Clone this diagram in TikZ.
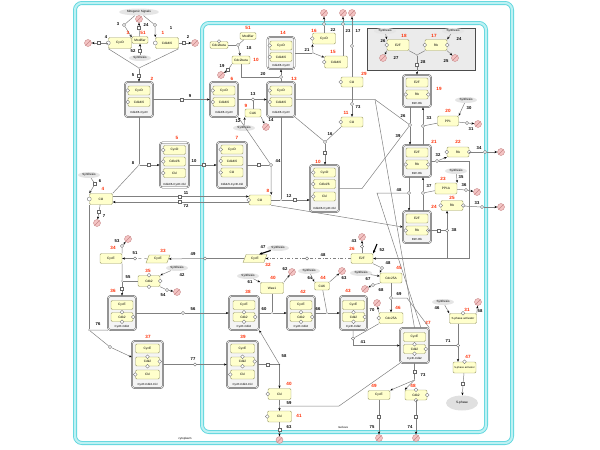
\documentclass[tikz,border=0pt]{standalone}
\usepackage{fontspec}
\setmainfont{Liberation Sans}
\usetikzlibrary{arrows.meta,shapes.geometric}
\definecolor{protfill}{HTML}{FFFFCC}
\definecolor{protline}{HTML}{9C9C6C}
\definecolor{cplxline}{HTML}{5A5A5A}
\definecolor{cplxfill}{HTML}{F4F4F4}
\definecolor{cyanline}{HTML}{5ED6DE}
\definecolor{cyanfill}{HTML}{BDF1F3}
\definecolor{degfill}{HTML}{F4C4C4}
\definecolor{degline}{HTML}{C88888}
\definecolor{labred}{HTML}{FF2A00}
\tikzset{prot/.style={draw=protline,fill=protfill,rounded corners=1.2pt,line width=0.45pt,
    minimum width=22pt,minimum height=10pt,inner sep=0pt,font=\fontsize{3.2}{3.6}\selectfont},
  sub/.style={prot,minimum width=22pt,minimum height=9pt},
  gene/.style={prot,trapezium,trapezium left angle=65,trapezium right angle=115,trapezium stretches=true,
    rounded corners=0pt,minimum width=24pt,minimum height=8pt},
  cplx/.style={draw=cplxline,fill=cplxfill,rounded corners=2.5pt,line width=0.5pt,double=white,
    double distance=0.6pt,inner sep=0pt},
  clab/.style={font=\fontsize{2.9}{3.2}\selectfont,inner sep=0pt},
  rlab/.style={text=labred,font=\fontsize{4.6}{5}\selectfont\bfseries,inner sep=0pt},
  nlab/.style={font=\fontsize{4.2}{4.6}\selectfont\bfseries,inner sep=0pt},
  proc/.style={draw=black!60,fill=white,line width=0.35pt,minimum size=3pt,inner sep=0pt},
  pcirc/.style={proc,circle,minimum size=3.4pt},
  junc/.style={circle,fill=black!70,minimum size=1.4pt,inner sep=0pt},
  degr/.style={circle,draw=degline,fill=degfill,minimum size=7pt,inner sep=0pt,line width=0.4pt,
    path picture={\draw[degline,line width=0.4pt] (path picture bounding box.south west) -- (path picture bounding box.north east);}},
  synth/.style={ellipse,fill=black!10,minimum width=22pt,minimum height=6pt,inner sep=0pt,
    font=\fontsize{3}{3.4}\selectfont},
  svc/.style={draw=black!55,fill=white,line width=0.35pt},
  link/.style={draw=black!50,line width=0.5pt},
  arrow/.style={link,-{Stealth[length=2.8pt,width=2.2pt,color=black]}},
  thick arrow/.style={line width=1.1pt,-{Stealth[length=3pt,width=2.6pt]}},
  comp/.style={draw=cyanline,line width=0.9pt,double=cyanfill,double distance=2.2pt,rounded corners=7pt}}

\begin{document}
\begin{tikzpicture}[x=1pt,y=-1pt]
  \useasboundingbox (0,0) rectangle (600,450);
  % compartments
  \draw[comp] (75,3) rectangle (512,443);
  \draw[comp] (202,23) rectangle (486,432);
  \draw[fill=black!8,draw=black!70,line width=0.6pt] (367,28) rectangle (475,70);
  \node[clab] (cyto) at (185,439) {cytoplasm};
  \node[clab] (nucl) at (343,427) {nucleus};

  % ---- cytoplasm: CycD and Cdk4/6 ----
  \node[synth,minimum width=40pt,minimum height=7pt] (mito) at (139,12) {Mitogenic Signals};
  \node[prot,minimum width=23pt,minimum height=11pt] (p3) at (120,43) {CycD};
  \node[prot,minimum width=16pt,minimum height=7pt] (mod1) at (140,40) {Modifier};
  \node[prot,minimum width=23pt,minimum height=11pt] (p1) at (167,43) {Cdk4/6};
  \node[synth] (syn52) at (140,58) {Synthesis};
  \node[degr] (d4) at (88,43) {};
  \node[degr] (d2) at (195,43) {};
  \node[degr] (d24) at (139,19) {};
  \node[proc] (q4) at (99,43) {};
  \node[proc] (q2) at (184,43) {};
  \node[proc] (q24) at (139,28) {};
  \node[proc] (q52) at (140,50.5) {};
  \node[pcirc] (c3) at (124,25) {};
  \node[pcirc] (c1) at (155,25) {};
  \node[junc] (j5) at (139,68) {};
  \node[proc] (q5) at (139,76) {};
  \foreach \a in {p3,p1} \draw[svc] (\a.west) circle (2);
  \draw[link] (p3) -- (q4);
  \draw[arrow] (q4) -- (d4);
  \draw[link] (p1) -- (q2);
  \draw[arrow] (q2) -- (d2);
  \draw[link] (mod1) -- (q24);
  \draw[arrow] (q24) -- (d24);
  \draw[link] (syn52) -- (q52);
  \draw[arrow] (q52) -- (mod1);
  \draw[link] (mito) -- (c3);
  \draw[arrow] (c3) -- (p3.north east);
  \draw[link] (mito) -- (c1);
  \draw[arrow] (c1) -- (p1.north west);
  \draw[link] (p3.south west) -- (j5);
  \draw[link] (p1.south east) -- (j5);
  \draw[link] (j5) -- (q5);
  \node[rlab] (r3) at (128,33) {3};
  \node[rlab] (r51a) at (143,33) {51};
  \node[rlab] (r1) at (163,33) {1};
  \node[nlab] (n3) at (118,24) {3};
  \node[nlab] (n1) at (171,28) {1};
  \node[nlab] (n4) at (106,37) {4};
  \node[nlab] (n2) at (188,37) {2};
  \node[nlab] (n24) at (146,25) {24};
  \node[nlab] (n52) at (133,51) {52};
  \node[nlab] (n5) at (133,75) {5};

  % Cdk4/6-CycD (cytoplasm)
  \begin{scope}[shift={(139,99.5)}]
    \node[cplx,minimum width=28pt,minimum height=35pt] (k2) at (0,0) {};
    \node[sub] (k2a) at (0,-9) {CycD};
    \node[sub] (k2b) at (0,2.5) {Cdk4/6};
    \node[clab] (k2l) at (0,13.5) {Cdk4/6-CycD};
  \end{scope}
  \node[rlab] (r2) at (152,79) {2};
  \draw[arrow] (q5) -- (k2);
  \node[proc] (q9) at (182,99.5) {};
  \node[nlab] (n9) at (190,96) {9};
  \node[junc] (j8) at (139,165) {};
  \node[proc] (q8) at (149,165) {};
  \node[nlab] (n8) at (133,163) {8};

  % Cdk4/6-CycD-Ckl (cytoplasm)
  \begin{scope}[shift={(174.5,165)}]
    \node[cplx,minimum width=29pt,minimum height=45pt] (k5) at (0,0) {};
    \node[sub] (k5a) at (0,-15) {CycD};
    \node[sub] (k5b) at (0,-3.5) {Cdk4/6};
    \node[sub] (k5c) at (0,8) {Ckl};
    \node[clab] (k5l) at (0,19.5) {Cdk4/6-CycD-Ckl};
  \end{scope}
  \node[rlab] (r5) at (177,138) {5};
  \node[proc] (q10) at (204,165) {};
  \node[nlab] (n10) at (194,161) {10};

  % Ckl (cytoplasm)
  \node[prot,minimum width=23pt,minimum height=11pt] (p4) at (101,199) {Ckl};
  \node[rlab] (r4) at (103,189) {4};
  \node[synth] (syn6) at (89,175) {Synthesis};
  \node[proc] (q6) at (95,184) {};
  \node[nlab] (n6) at (100,181) {6};
  \node[proc] (q7) at (99,212) {};
  \node[degr] (d7) at (97,223) {};
  \node[nlab] (n7) at (104,216) {7};
  \node[proc] (q11) at (180,196.5) {};
  \node[proc] (q72) at (180,202) {};
  \node[nlab] (n11) at (186,193) {11};
  \node[nlab] (n72) at (186,206) {72};
  \draw[svc] (p4.west) circle (2);
  \draw[link] (syn6) -- (q6);
  \draw[arrow] (q6) -- (p4.north west);
  \draw[link] (p4) -- (q7);
  \draw[arrow] (q7) -- (d7);
  \draw[link] (p4.north east) -- (j8);

  % CycE (cytoplasm)
  \node[gene] (p33) at (158,259) {CycE};
  \node[rlab] (r33) at (163,251) {33};
  \node[pcirc] (c51) at (135,258.5) {};
  \node[nlab] (n51) at (135,253) {51};
  \node[prot] (p34) at (111,258.5) {CycE};
  \node[rlab] (r34) at (113,248) {34};
  \node[pcirc] (c53) at (122,246) {};
  \node[degr] (d53) at (128,239) {};
  \node[nlab] (n53) at (117,241) {53};
  \node[junc] (j55) at (122,281) {};
  \node[proc] (q55) at (122,289) {};
  \node[nlab] (n55) at (128,277) {55};
  \node[prot,minimum height=11pt] (p35) at (149,281) {Cdk2};
  \node[rlab] (r35) at (148,271) {35};
  \node[synth] (syn42) at (177,268) {Synthesis};
  \node[nlab] (n42) at (182,275) {42};
  \node[pcirc] (c54) at (167,290) {};
  \node[degr] (d54) at (177,292) {};
  \node[nlab] (n54) at (163,295) {54};
  \foreach \a in {north,south,east} \draw[svc] (p35.\a) circle (1.8);
  \draw[link,dashed] (p33) -- (c51);
  \draw[arrow] (c51) -- (p34);
  \draw[link] (p34.north east) -- (c53);
  \draw[arrow] (c53) -- (d53);
  \draw[link] (p34.south east) -- (j55);
  \draw[link] (p35) -- (j55);
  \draw[link] (j55) -- (q55);
  \draw[arrow] (syn42) -- (p35.north east);
  \draw[link] (p35.south east) -- (c54);
  \draw[arrow] (c54) -- (d54);

  % CycE-Cdk2 (cytoplasm)
  \begin{scope}[shift={(122,313)}]
    \node[cplx,minimum width=28pt,minimum height=34pt] (k36) at (0,0) {};
    \node[sub] (k36a) at (0,-8) {CycE};
    \node[sub] (k36b) at (0,4) {Cdk2};
    \node[clab] (k36l) at (0,13.5) {CycE-Cdk2};
  \end{scope}
  \node[rlab] (r36) at (113,291) {36};
  \draw[arrow] (q55) -- (k36);
  \node[pcirc] (c56) at (183,313) {};
  \node[nlab] (n56) at (193,309) {56};
  \node[junc] (j76) at (89,330) {};
  \node[pcirc] (c76) at (110,347) {};
  \node[nlab] (n76) at (98,324) {76};

  % CycE-Cdk2-Ckl (cytoplasm)
  \begin{scope}[shift={(147.5,364.5)}]
    \node[cplx,minimum width=31pt,minimum height=47pt] (k37) at (0,0) {};
    \node[sub,minimum width=24pt] (k37a) at (0,-16) {CycE};
    \node[sub,minimum width=24pt] (k37b) at (0,-3) {Cdk2};
    \node[sub,minimum width=24pt] (k37c) at (0,10) {Ckl};
    \node[clab] (k37l) at (0,20.5) {CycE-Cdk2-Ckl};
  \end{scope}
  \node[rlab] (r37) at (148,337) {37};
  \node[pcirc] (c77) at (195,364.5) {};
  \node[nlab] (n77) at (193,359) {77};
  \draw[link] (j76 |- p4.south) -- (j76);
  \draw[link] (j76) -- (k36.south west);
  \draw[link] (j76) -- (c76);
  \draw[arrow] (c76) -- (k37);

  % ---- nucleus: Cdk4/6 complexes ----
  \begin{scope}[shift={(224,99.5)}]
    \node[cplx,minimum width=28pt,minimum height=35pt] (k6) at (0,0) {};
    \node[sub] (k6a) at (0,-9) {CycD};
    \node[sub] (k6b) at (0,2.5) {Cdk4/6};
    \node[clab] (k6l) at (0,13.5) {Cdk4/6-CycD};
  \end{scope}
  \node[rlab] (r6) at (232,79) {6};
  \begin{scope}[shift={(281,99.5)}]
    \node[cplx,minimum width=28pt,minimum height=35pt] (k13) at (0,0) {};
    \node[sub] (k13a) at (0,-9) {CycD};
    \node[sub] (k13b) at (0,2.5) {Cdk4/6};
    \node[clab] (k13l) at (0,13.5) {Cdk4/6-CycD};
  \end{scope}
  \node[rlab] (r13) at (294,79) {13};
  \begin{scope}[shift={(281,53)}]
    \node[cplx,minimum width=27pt,minimum height=32pt] (k14) at (0,0) {};
    \node[sub] (k14a) at (0,-7.5) {CycD};
    \node[sub] (k14b) at (0,4) {Cdk4/6};
    \node[clab] (k14l) at (0,12.5) {Cdk4/6-CycD};
  \end{scope}
  \node[rlab] (r14) at (283,33) {14};
  \begin{scope}[shift={(232,165)}]
    \node[cplx,minimum width=30pt,minimum height=46pt] (k7) at (0,0) {};
    \node[sub] (k7a) at (0,-15.5) {CycD};
    \node[sub] (k7b) at (0,-4) {Cdk4/6};
    \node[sub] (k7c) at (0,7.5) {Ckl};
    \node[clab] (k7l) at (0,19.5) {Cdk4/6-CycD-Ckl};
  \end{scope}
  \node[rlab] (r7) at (237,138) {7};
  \begin{scope}[shift={(324.5,188.5)}]
    \node[cplx,minimum width=29pt,minimum height=47pt] (k10) at (0,0) {};
    \node[sub] (k10a) at (0,-16) {CycD};
    \node[sub] (k10b) at (0,-4.5) {Cdk4/6};
    \node[sub] (k10c) at (0,8) {Ckl};
    \node[clab] (k10l) at (0,20) {Cdk4/6-CycD-Ckl};
  \end{scope}
  \node[rlab] (r10) at (318,162) {10};
  \foreach \a in {k2a,k2b,k5a,k5b,k5c,k6a,k6b,k13a,k13b,k14a,k14b,k7a,k7b,k7c,k10a,k10b,k10c}
    \draw[svc] (\a.west) circle (1.8);

  \draw[link] (k2) -- (q9);
  \draw[arrow] (q9) -- (k6);
  \draw[link] (k2) -- (j8);
  \draw[link] (j8) -- (q8);
  \draw[arrow] (q8) -- (k5);
  \draw[link] (k5) -- (q10);
  \draw[arrow] (q10) -- (k7);

  % Cdc2beta and modifier
  \node[prot,minimum width=18pt,minimum height=7pt] (pA) at (219,45) {Cdc2beta};
  \node[prot,minimum width=16pt,minimum height=7pt] (mod2) at (248,36) {Modifier};
  \node[rlab] (r51b) at (248,28) {51};
  \node[pcirc] (j18) at (238,45) {};
  \node[nlab] (n18) at (249,48) {18};
  \node[prot,minimum width=18pt,minimum height=8pt] (pB) at (241,60) {Cdc2beta};
  \node[rlab] (r10b) at (256,60) {10};
  \node[proc] (q19) at (228,70) {};
  \node[degr] (d19) at (221,75) {};
  \node[nlab] (n19) at (222,66) {19};
  \node[pcirc] (c20) at (281,77) {};
  \node[nlab] (n20) at (263,74) {20};
  \draw[svc] (pA.north) circle (1.6);
  \draw[link] (pA) -- (j18);
  \draw[link] (mod2) -- (j18);
  \draw[arrow] (j18) -- (pB);
  \draw[link] (pB.south west) -- (q19);
  \draw[arrow] (q19) -- (d19);
  \draw[link] (pB.south) |- (c20);
  \draw[link] (k13) -- (c20);
  \draw[arrow] (c20) -- (k14);

  % CycD / Cdk4/6 released
  \node[junc] (j21) at (313,53) {};
  \node[nlab] (n21) at (307,50) {21};
  \node[prot,minimum width=23pt,minimum height=11pt] (p16) at (324,38.5) {CycD};
  \node[rlab] (r16) at (314,31) {16};
  \node[prot,minimum width=23pt,minimum height=12pt] (p15) at (336,62) {Cdk4/6};
  \node[rlab] (r15) at (333,52) {15};
  \node[pcirc] (c22) at (324,24) {};
  \node[degr] (d22) at (324,13) {};
  \node[nlab] (n22) at (333,30) {22};
  \node[pcirc] (c23) at (343,24) {};
  \node[degr] (d23) at (343,13) {};
  \node[nlab] (n23) at (348,31) {23};
  \node[prot] (p29) at (352,82) {Ckl};
  \node[rlab] (r29) at (364,74) {29};
  \node[pcirc] (c17) at (352,46) {};
  \node[degr] (d17) at (352,13) {};
  \node[nlab] (n17) at (358,31) {17};
  \node[prot] (p11) at (352,122) {Ckl};
  \node[rlab] (r11) at (346,113) {11};
  \node[pcirc] (c73) at (352,104) {};
  \node[nlab] (n73) at (358,107) {73};
  \foreach \a in {p16,p15,p29,p11} \draw[svc] (\a.west) circle (1.8);
  \draw[link] (k14) -- (j21);
  \draw[arrow] (j21) -- (p16.south west);
  \draw[arrow] (j21) -- (p15);
  \draw[link] (p16) -- (c22);
  \draw[arrow] (c22) -- (d22);
  \draw[link] (c23 |- p15.north) -- (c23);
  \draw[arrow] (c23) -- (d23);
  \draw[link] (p29) -- (c17);
  \draw[arrow] (c17) -- (d17);
  \draw[link] (p29) -- (c73);
  \draw[arrow] (c73) -- (p11);

  % CAK and Ckl binding
  \node[pcirc] (c13) at (253,99.5) {};
  \node[nlab] (n13) at (253,94) {13};
  \node[prot,minimum width=16pt,minimum height=8pt] (p9) at (253,113) {CAK};
  \node[rlab] (r9) at (246,106) {9};
  \node[synth] (syn12) at (244,128) {Synthesis};
  \node[degr] (d14) at (266,127) {};
  \node[nlab] (n12) at (238,121) {12};
  \node[nlab] (n14) at (271,120) {14};
  \draw[link] (k6) -- (c13);
  \draw[arrow] (c13) -- (k13);
  \draw[link] (p9) -- (c13);
  \draw[arrow] (syn12) -- (p9.south west);
  \draw[arrow] (p9.south east) -- (d14);
  \node[proc] (q44) at (259,165) {};
  \node[pcirc] (c44) at (271,165) {};
  \node[nlab] (n44) at (278,161) {44};
  \node[prot] (p8) at (260,200) {Ckl};
  \node[rlab] (r8) at (268,191) {8};
  \node[junc] (j12) at (281,200) {};
  \node[proc] (q12) at (295,200) {};
  \node[nlab] (n12b) at (289,196) {12};
  \node[pcirc] (c16) at (325,142) {};
  \node[proc] (q16) at (325,153) {};
  \node[nlab] (n16) at (330,134) {16};
  \draw[svc] (p8.west) circle (1.8);
  \draw[link] (k7) -- (q44);
  \draw[link] (q44) -- (c44);
  \draw[arrow] (c44) -- (p8.north east);
  \draw[arrow] (c44) -- (k6.south east);
  \draw[link] (p4.east |- q11) -- (q11);
  \draw[arrow] (q11) -- (p8.west |- q11);
  \draw[link] (p8.west |- q72) -- (q72);
  \draw[arrow] (q72) -- (p4.east |- q72);
  \draw[link] (k13) -- (j12);
  \draw[link] (p8) -- (j12);
  \draw[link] (j12) -- (q12);
  \draw[arrow] (q12) -- (k10.west |- q12);
  \draw[link] (k13.south east) -- (c16);
  \draw[link] (p11.south west) -- (c16);
  \draw[link] (c16) -- (q16);
  \draw[arrow] (q16) -- (k10.north -| q16);

  % ---- E2F / Rb ----
  \node[synth] (syn26) at (385,31) {Synthesis};
  \node[nlab] (n26a) at (383,41) {26};
  \node[prot,minimum height=11pt] (p18) at (398,45) {E2F};
  \node[rlab] (r18) at (404,36) {18};
  \node[degr] (d27) at (383,58) {};
  \node[nlab] (n27) at (396,58) {27};
  \node[synth] (syn24) at (453,31) {Synthesis};
  \node[nlab] (n24b) at (459,39) {24};
  \node[prot,minimum height=11pt] (p17) at (436,45) {Rb};
  \node[rlab] (r17) at (434,36) {17};
  \node[degr] (d25) at (455,58) {};
  \node[nlab] (n25) at (446,61) {25};
  \node[junc] (j28) at (417,55) {};
  \node[proc] (q28) at (417,65) {};
  \node[nlab] (n28) at (423,62) {28};
  \draw[svc] (p18.west) circle (1.8);
  \foreach \a in {west,east} \draw[svc] (p17.\a) circle (1.8);
  \draw[arrow] (syn26) -- (p18.north west);
  \draw[arrow] (p18.south west) -- (d27);
  \draw[arrow] (syn24) -- (p17.north east);
  \draw[arrow] (p17.south east) -- (d25);
  \draw[link] (p18.south east) -- (j28);
  \draw[link] (p17.south west) -- (j28);
  \draw[link] (j28) -- (q28);

  \begin{scope}[shift={(417,91)}]
    \node[cplx,minimum width=28pt,minimum height=32pt] (k19) at (0,0) {};
    \node[sub] (k19a) at (0,-8.5) {E2F};
    \node[sub] (k19b) at (0,3.5) {Rb};
    \node[clab] (k19l) at (0,12.5) {E2F-Rb};
  \end{scope}
  \node[rlab] (r19) at (439,89) {19};
  \begin{scope}[shift={(417,161)}]
    \node[cplx,minimum width=28pt,minimum height=32pt] (k21) at (0,0) {};
    \node[sub] (k21a) at (0,-8.5) {E2F};
    \node[sub] (k21b) at (0,3.5) {Rb};
    \node[clab] (k21l) at (0,12.5) {E2F-Rb};
  \end{scope}
  \node[rlab] (r21) at (434,142) {21};
  \begin{scope}[shift={(417,227)}]
    \node[cplx,minimum width=28pt,minimum height=32pt] (k24) at (0,0) {};
    \node[sub] (k24a) at (0,-8.5) {E2F};
    \node[sub] (k24b) at (0,3.5) {Rb};
    \node[clab] (k24l) at (0,12.5) {E2F-Rb};
  \end{scope}
  \node[rlab] (r24) at (434,207) {24};
  \foreach \a in {k19b,k21b,k24b} \draw[svc] (\a.west) circle (1.8) (\a.east) circle (1.8);
  \draw[arrow] (q28) -- (k19);

  \node[pcirc] (c26) at (410,125) {};
  \node[nlab] (n26) at (403,116) {26};
  \node[nlab] (n39) at (398,136) {39};
  \coordinate (b26) at (375,99.5);
  \coordinate (b39) at (362,188.5);
  \node[pcirc] (c33) at (423,126) {};
  \node[nlab] (n33) at (429,118) {33};
  \node[prot,minimum width=21pt] (p20) at (448,121) {PP1};
  \node[rlab] (r20) at (448,111) {20};
  \node[synth] (syn30) at (466,100) {Synthesis};
  \node[nlab] (n30) at (469,108) {30};
  \node[pcirc] (c31) at (467,123) {};
  \node[degr] (d31) at (478,124) {};
  \node[nlab] (n31) at (471,129) {31};
  \draw[link] (k19.south -| c26) -- (c26);
  \draw[arrow] (c26) -- (k21.north -| c26);
  \draw[link] (k21.north -| c33) -- (c33);
  \draw[arrow] (c33) -- (k19.south -| c33);
  \draw[link] (p20) -- (c33);
  \draw[arrow] (syn30) -- (p20.north east);
  \draw[link] (p20) -- (c31);
  \draw[arrow] (c31) -- (d31);
  \draw[link] (k13) -- (b26) -- (c26);
  \draw[link] (k10) -- (b39) -- (c26);

  \node[pcirc] (c32) at (437,161) {};
  \node[nlab] (n32) at (438,155) {32};
  \node[prot] (p22) at (458,152) {Rb};
  \node[rlab] (r22) at (458,142) {22};
  \node[pcirc] (c34) at (485,152) {};
  \node[degr] (d34) at (501,152) {};
  \node[nlab] (n34) at (479,148) {34};
  \coordinate (b32) at (469,161);
  \coordinate (b32b) at (469,258.5);
  \foreach \a in {west,east} \draw[svc] (p22.\a) circle (1.8);
  \draw[link] (k21) -- (c32);
  \draw[arrow] (c32) -- (p22.south west);
  \draw[link] (p22) -- (c34);
  \draw[arrow] (c34) -- (d34);

  \node[pcirc] (c48) at (409,193) {};
  \node[nlab] (n48) at (399,190) {48};
  \coordinate (b48) at (377,193);
  \node[pcirc] (c37) at (423,193) {};
  \node[nlab] (n37) at (429,186) {37};
  \node[prot,minimum height=11pt] (p23) at (446,188.5) {PP1A};
  \node[rlab] (r23) at (443,179) {23};
  \node[synth] (syn35) at (456,171) {Synthesis};
  \node[nlab] (n35) at (461,177) {35};
  \node[pcirc] (c36) at (466,190) {};
  \node[degr] (d36) at (477,192) {};
  \node[nlab] (n36) at (464,185) {36};
  \draw[link] (k21.south -| c48) -- (c48);
  \draw[arrow] (c48) -- (k24.north -| c48);
  \draw[link] (k24.north -| c37) -- (c37);
  \draw[arrow] (c37) -- (k21.south -| c37);
  \draw[link] (p23) -- (c37);
  \draw[arrow] (syn35) -- (p23.north east);
  \draw[link] (p23) -- (c36);
  \draw[arrow] (c36) -- (d36);

  \node[proc] (q38) at (439,230.5) {};
  \node[pcirc] (c38) at (447,230.5) {};
  \node[nlab] (n38) at (454,230) {38};
  \coordinate (b38) at (447,258.5);
  \node[prot] (p25) at (452,205.5) {Rb};
  \node[rlab] (r25) at (452,197.5) {25};
  \node[pcirc] (c33b) at (482,207) {};
  \node[degr] (d33) at (501,207) {};
  \node[nlab] (n33b) at (477,203) {33};
  \foreach \a in {west,east} \draw[svc] (p25.\a) circle (1.8);
  \draw[link] (k24b) -- (q38);
  \draw[link] (q38) -- (c38);
  \draw[arrow] (c38) -- (p25.south -| c38);
  \draw[link] (c38) -- (b38);
  \draw[link] (p25) -- (c33b);
  \draw[arrow] (c33b) -- (d33);
  \draw[arrow] (p8.south east) -- (k24.west);

  % E2F and its targets
  \node[prot] (p26) at (362,258.5) {E2F};
  \node[rlab] (r26) at (352,249) {26};
  \node[pcirc] (c43) at (362,246.5) {};
  \node[degr] (d43) at (362,237) {};
  \node[nlab] (n43) at (354,241) {43};
  \coordinate (t52) at (377,244);
  \node[nlab] (n52b) at (382,250) {52};
  \draw[link] (p26) -- (c43);
  \draw[arrow] (c43) -- (d43);
  \draw[thick arrow] (t52) -- (p26.north east);
  \draw[arrow] (c32) -- (b32) -- (b32b) -- (p26);

  \node[gene] (p32) at (255,258.5) {CycE};
  \node[rlab] (r32) at (268,265) {32};
  \node[synth] (syn47) at (278,248) {Synthesis};
  \node[nlab] (n47) at (263,247) {47};
  \node[pcirc] (c50) at (307,258.5) {};
  \node[nlab] (n50) at (323,255) {48};
  \node[pcirc] (c49) at (205,258.5) {};
  \node[nlab] (n49) at (193,254) {49};
  \draw[thick arrow] (syn47) -- (p32.north east);
  \draw[link,dash dot] (p26) -- (c50);
  \draw[arrow,dash dot] (c50) -- (p32);
  \draw[link] (p32) -- (c49);
  \draw[arrow] (c49) -- (p33);

  % Cdc25A
  \node[prot] (p45) at (391,278) {Cdc25A};
  \node[rlab] (r45) at (399,268) {45};
  \node[synth] (syn67) at (361,273) {Synthesis};
  \node[nlab] (n67) at (368,279) {67};
  \node[pcirc] (c48b) at (382,268) {};
  \node[nlab] (n48b) at (388,263) {48};
  \node[pcirc] (c68) at (373,285) {};
  \node[degr] (d68) at (365,289) {};
  \node[nlab] (n68) at (381,290) {68};
  \node[pcirc] (c69) at (391,298) {};
  \node[nlab] (n69) at (399,294) {69};
  \node[prot,minimum width=24pt,minimum height=11pt] (p46) at (391,318) {Cdc25A};
  \node[rlab] (r46) at (398,308) {46};
  \node[degr] (d70) at (377,303) {};
  \node[nlab] (n70) at (372,310) {70};
  \node[pcirc] (c41) at (353,338.5) {};
  \node[nlab] (n41) at (363,342) {41};
  \draw[svc] (p46.west) circle (1.8);
  \draw[arrow] (syn67) -- (p45);
  \draw[link] (p26.south east) -- (c48b);
  \draw[arrow] (c48b) -- (p45.north west);
  \draw[link] (p45.south west) -- (c68);
  \draw[arrow] (c68) -- (d68);
  \draw[link] (p45) -- (c69);
  \draw[arrow] (c69) -- (p46);
  \draw[arrow] (p46.north west) -- (d70);

  % ---- nucleus: CycE-Cdk2 complexes ----
  \begin{scope}[shift={(244,313)}]
    \node[cplx,minimum width=30pt,minimum height=34pt] (k38) at (0,0) {};
    \node[sub] (k38a) at (0,-8) {CycE};
    \node[sub] (k38b) at (0,4) {Cdk2};
    \node[clab] (k38l) at (0,13.5) {CycE-Cdk2};
  \end{scope}
  \node[rlab] (r38) at (248,292) {38};
  \begin{scope}[shift={(301,313)}]
    \node[cplx,minimum width=28pt,minimum height=34pt] (k42) at (0,0) {};
    \node[sub] (k42a) at (0,-8) {CycE};
    \node[sub] (k42b) at (0,4) {Cdk2};
    \node[clab] (k42l) at (0,13.5) {CycE-Cdk2};
  \end{scope}
  \node[rlab] (r42) at (303,292) {42};
  \begin{scope}[shift={(353.5,313)}]
    \node[cplx,minimum width=27pt,minimum height=34pt] (k43) at (0,0) {};
    \node[sub] (k43a) at (0,-8) {CycE};
    \node[sub] (k43b) at (0,4) {Cdk2};
    \node[clab] (k43l) at (0,13.5) {CycE-Cdk2};
  \end{scope}
  \node[rlab] (r43) at (348,291) {43};
  \begin{scope}[shift={(242.5,364.5)}]
    \node[cplx,minimum width=31pt,minimum height=47pt] (k39) at (0,0) {};
    \node[sub,minimum width=24pt] (k39a) at (0,-16) {CycE};
    \node[sub,minimum width=24pt] (k39b) at (0,-3) {Cdk2};
    \node[sub,minimum width=24pt] (k39c) at (0,10) {Ckl};
    \node[clab] (k39l) at (0,20.5) {CycE-Cdk2-Ckl};
  \end{scope}
  \node[rlab] (r39) at (243,337) {39};
  \begin{scope}[shift={(414.5,345.5)}]
    \node[cplx,minimum width=29pt,minimum height=35pt] (k27) at (0,0) {};
    \node[sub] (k27a) at (0,-8.5) {CycE};
    \node[sub] (k27b) at (0,3.5) {Cdk2};
    \node[clab] (k27l) at (0,13.5) {CycE-Cdk2};
  \end{scope}
  \node[rlab] (r27) at (428,323) {27};
  \foreach \a in {k36b,k37b,k38b,k39b,k42b,k43b,k27b}
    \draw[svc] (\a.north) circle (1.8) (\a.east) circle (1.8) (\a.south) circle (1.8);
  \foreach \a in {k37c,k39c} \draw[svc] (\a.west) circle (1.8);
  \draw[link] (k36) -- (c56);
  \draw[arrow] (c56) -- (k38);
  \draw[link] (k37) -- (c77);
  \draw[arrow] (c77) -- (k39);

  % Wee1 and CAK
  \node[prot,minimum width=23pt,minimum height=11pt] (p40) at (272,288) {Wee1};
  \node[rlab] (r40) at (273,278) {40};
  \node[synth] (syn61) at (248,276) {Synthesis};
  \node[nlab] (n61) at (250,282) {61};
  \node[degr] (d62) at (292,272) {};
  \node[nlab] (n62) at (285,269) {62};
  \node[junc] (j60) at (272,313) {};
  \node[nlab] (n60) at (264,309) {60};
  \node[prot,minimum width=15pt,minimum height=8pt] (p44) at (322,286) {CAK};
  \node[rlab] (r44) at (323,277.5) {44};
  \node[synth] (syn64) at (309,271) {Synthesis};
  \node[nlab] (n64) at (310,278) {64};
  \node[degr] (d63) at (342,271) {};
  \node[nlab] (n63) at (344,278) {63};
  \node[junc] (j66) at (327,313) {};
  \node[nlab] (n66) at (318,309) {66};
  \draw[arrow] (syn61) -- (p40.north west);
  \draw[arrow] (p40.north east) -- (d62);
  \draw[link] (k38) -- (j60);
  \draw[link] (p40) -- (j60);
  \draw[arrow] (j60) -- (k42);
  \draw[arrow] (syn64) -- (p44.north west);
  \draw[arrow] (p44.north east) -- (d63);
  \draw[link] (k42) -- (j66);
  \draw[link] (p44) -- (j66);
  \draw[arrow] (j66) -- (k43);
  \draw[link] (p46.south west) -- (c41);
  \draw[link] (k43) -- (c41);
  \draw[arrow] (c41) |- (k27.west);
  \draw[link] (c69) -- ++(16,0) -- (k27.north east);
  \draw[link] (k27.70) -- (b48) -- (c48);
  \draw[link] (k27.north) -- (b26);

  % Ckl release and phosphorylation
  \node[proc] (q58) at (268,364.5) {};
  \node[junc] (j58) at (279.5,364.5) {};
  \node[nlab] (n58) at (284,356) {58};
  \node[prot,minimum width=23pt,minimum height=11pt] (p40b) at (279.5,394) {Ckl};
  \node[rlab] (r40b) at (289,384) {40};
  \node[junc] (j59) at (279.5,406) {};
  \node[nlab] (n59) at (289,403) {59};
  \coordinate (b59) at (339,406);
  \node[prot,minimum width=24pt,minimum height=11pt] (p41) at (279.5,416.5) {Ckl};
  \node[rlab] (r41) at (299,416) {41};
  \node[proc] (q63) at (279.5,430) {};
  \node[degr] (d63b) at (279.5,440) {};
  \node[nlab] (n63b) at (289,427) {63};
  \foreach \a in {p40b,p41} \draw[svc] (\a.west) circle (1.8);
  \draw[link] (k39) -- (q58);
  \draw[link] (q58) -- (j58);
  \draw[arrow] (j58) -- (k38.south east);
  \draw[arrow] (j58) -- (p40b);
  \draw[link] (p40b) -- (j59);
  \draw[arrow] (j59) -- (p41);
  \draw[link] (k27.south west) -- (b59) -- (j59);
  \draw[link] (p41) -- (q63);
  \draw[arrow] (q63) -- (d63b);

  % S-phase
  \node[pcirc] (c71) at (458,345.5) {};
  \node[nlab] (n71) at (448,341) {71};
  \node[prot,minimum width=27pt] (p31) at (463,318.5) {\fontsize{2.9}{3}\selectfont S-phase activator};
  \node[rlab] (r31) at (467,310) {31};
  \node[synth] (syn46) at (443,302) {Synthesis};
  \node[nlab] (n46) at (437,308) {46};
  \node[degr] (d58) at (478,302) {};
  \node[nlab] (n58b) at (480,311) {58};
  \node[prot,minimum width=23pt,minimum height=11pt] (p47) at (464.5,367.5) {\fontsize{2.6}{3}\selectfont S-phase activator};
  \node[rlab] (r47) at (468,357) {47};
  \node[proc] (qs) at (463,384) {};
  \node[ellipse,fill=black!12,minimum width=32pt,minimum height=15pt,inner sep=0pt,
    font=\fontsize{3.2}{3.6}\selectfont] (sph) at (462,403) {S-phase};
  \draw[svc] (p31.north) circle (1.8);
  \draw[svc] (p47.north) circle (1.8);
  \draw[arrow] (syn46) -- (p31.north west);
  \draw[arrow] (p31.north east) -- (d58);
  \draw[link] (k27) -- (c71);
  \draw[link] (p31.south -| c71) -- (c71);
  \draw[arrow] (c71) -- (p47.north -| c71);
  \draw[link] (p47) -- (qs);
  \draw[arrow] (qs) -- (sph);

  % complex break-down
  \node[proc] (q73) at (414.5,372) {};
  \node[junc] (j73) at (414.5,380) {};
  \node[nlab] (n73b) at (423,375) {73};
  \node[prot,minimum height=9pt] (p49) at (379,395) {CycE};
  \node[rlab] (r49) at (374,386) {49};
  \node[prot] (p48) at (416,395) {Cdk2};
  \node[rlab] (r48) at (413,386) {48};
  \node[proc] (q75) at (379,417) {};
  \node[degr] (d75) at (379,438) {};
  \node[nlab] (n75) at (372,427) {75};
  \node[proc] (q74) at (416,417) {};
  \node[degr] (d74) at (416,438) {};
  \node[nlab] (n74) at (410,427) {74};
  \foreach \a in {north,south,east} \draw[svc] (p48.\a) circle (1.8);
  \draw[link] (k27) -- (q73);
  \draw[link] (q73) -- (j73);
  \draw[arrow] (j73) -- (p49.north east);
  \draw[arrow] (j73) -- (p48.north west);
  \draw[link] (p49) -- (q75);
  \draw[arrow] (q75) -- (d75);
  \draw[link] (p48) -- (q74);
  \draw[arrow] (q74) -- (d74);
\end{tikzpicture}
\end{document}
